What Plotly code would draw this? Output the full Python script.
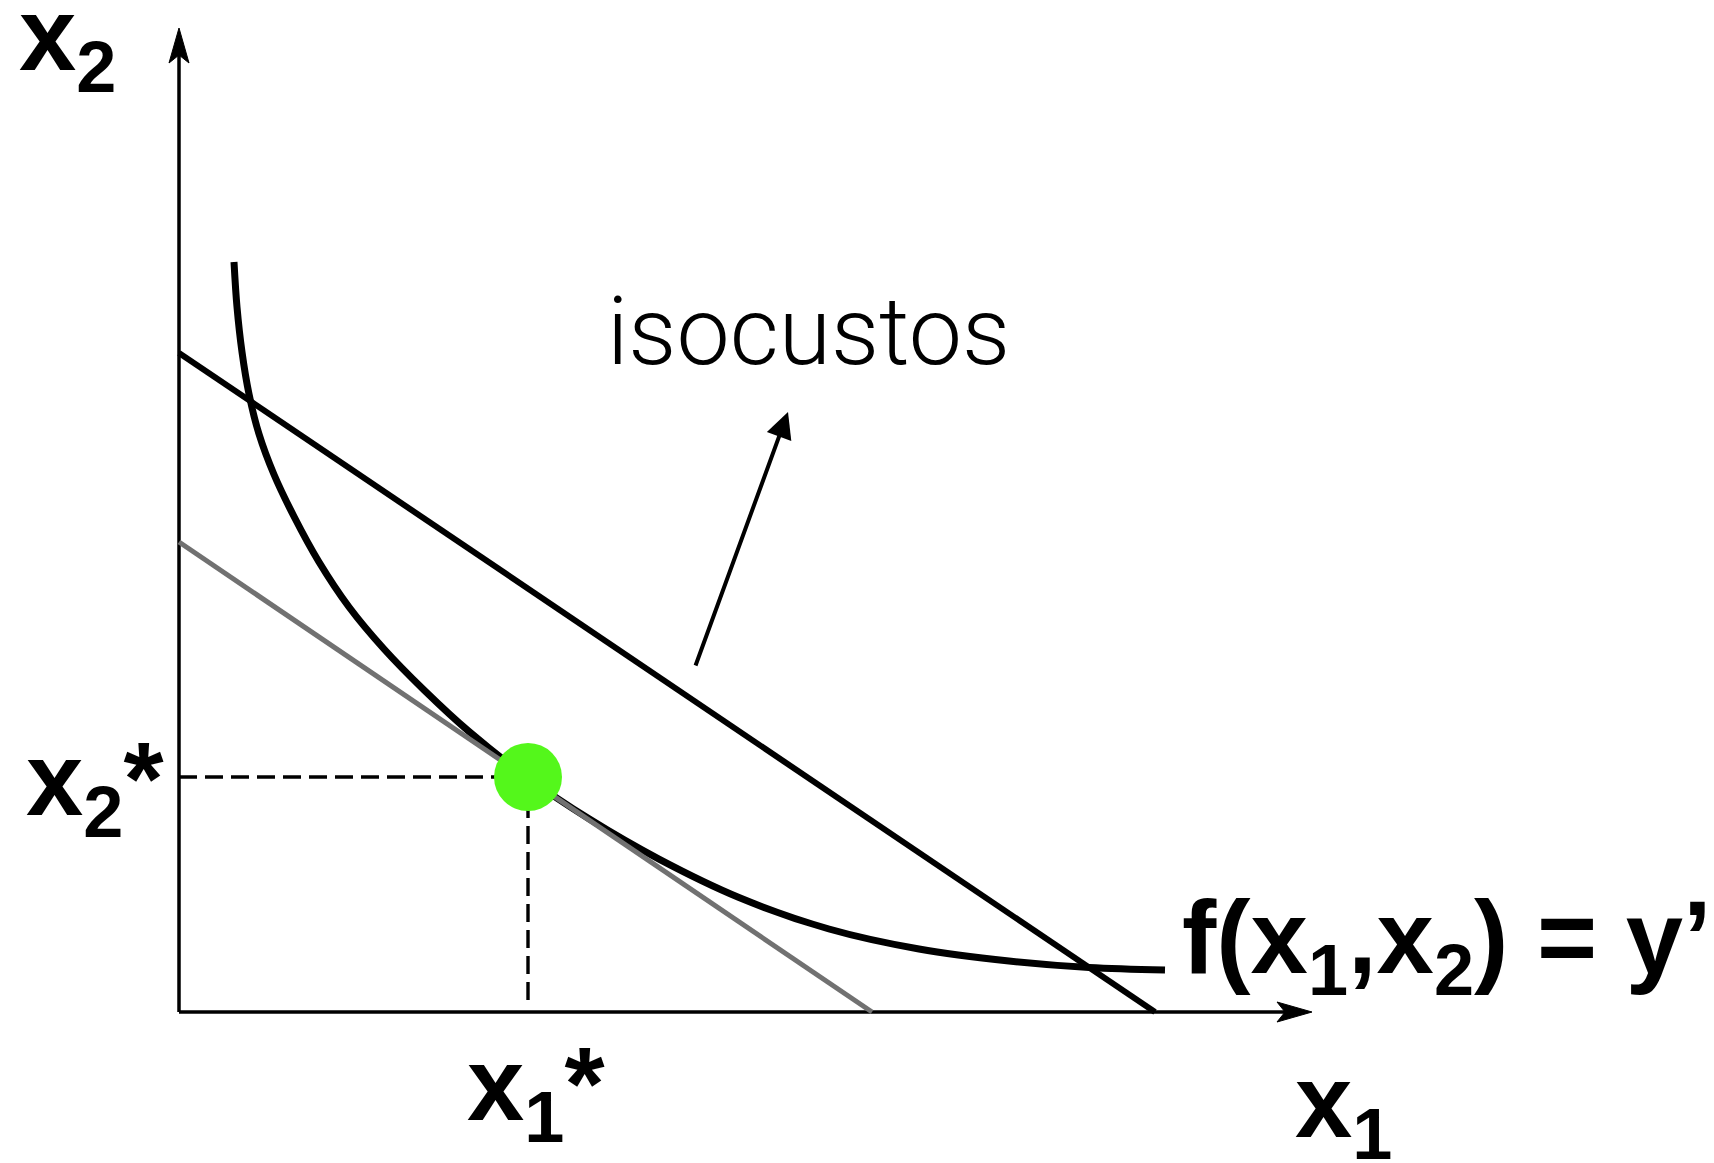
import plotly.graph_objects as go

# ---------------- data (x1, x2 units) ----------------
isoquant_x1 = [0.55, 0.58, 0.63, 0.70, 0.80, 0.95, 1.15, 1.40, 1.70, 2.05, 2.45, 2.90, 3.49,
               4.10, 4.80, 5.60, 6.50, 7.40, 8.30, 9.10, 9.86]
isoquant_x2 = [7.50, 7.05, 6.60, 6.18, 5.78, 5.375, 4.955, 4.50, 4.05, 3.63, 3.22, 2.805, 2.34,
               1.932, 1.529, 1.145, 0.83, 0.63, 0.51, 0.445, 0.42]

high_cost_x1 = [0.0, 9.76]
high_cost_x2 = [6.59, 0.0]
low_cost_x1 = [0.0, 6.93]
low_cost_x2 = [4.70, 0.0]

optimum_x1 = [3.49]
optimum_x2 = [2.35]
dash_bottom_x2 = 0.12

axis_x1_end = 11.33
axis_x2_end = 9.84

isocost_arrow_tail = [5.16, 3.45]
isocost_arrow_tip = [6.09, 6.00]

labels = ["x<sub>2</sub>", "x<sub>2</sub>*", "x<sub>1</sub>*",
          "f(x<sub>1</sub>,x<sub>2</sub>) = y\u2019", "x<sub>1</sub>"]
isocost_label = "isocustos"

# ---------------- layout geometry ----------------
PAGE_MARGIN = 8                      # default body margin of the html page
W, H = 1714 - PAGE_MARGIN, 1163 - PAGE_MARGIN
X0_PX, Y0_PX, PX_PER_UNIT = 179 - PAGE_MARGIN, 1012 - PAGE_MARGIN, 100.0
x_range = [-X0_PX / PX_PER_UNIT, (W - X0_PX) / PX_PER_UNIT]
y_range = [(Y0_PX - H) / PX_PER_UNIT, Y0_PX / PX_PER_UNIT]


def px(v):
    return v / PX_PER_UNIT


def paper_x(p):
    return (p - PAGE_MARGIN) / W


def paper_y(p):
    return 1 - (p - PAGE_MARGIN) / H


BLACK = "#000000"
GRAY = "#717171"
GREEN = "#54F71B"

fig = go.Figure()

# axes shafts
fig.add_trace(go.Scatter(x=[0, axis_x1_end - px(26)], y=[0, 0], mode="lines",
                         line=dict(color=BLACK, width=3.5)))
fig.add_trace(go.Scatter(x=[0, 0], y=[0, axis_x2_end - px(26)], mode="lines",
                         line=dict(color=BLACK, width=3.5)))

# isoquant
fig.add_trace(go.Scatter(x=isoquant_x1, y=isoquant_x2, mode="lines",
                         line=dict(color=BLACK, width=7, shape="spline", smoothing=1.0)))
# higher isocost
fig.add_trace(go.Scatter(x=high_cost_x1, y=high_cost_x2, mode="lines",
                         line=dict(color=BLACK, width=6)))
# lower (tangent) isocost
fig.add_trace(go.Scatter(x=low_cost_x1, y=low_cost_x2, mode="lines",
                         line=dict(color=GRAY, width=5)))

# dashed guides
fig.add_trace(go.Scatter(x=[0, optimum_x1[0]], y=[optimum_x2[0], optimum_x2[0]], mode="lines",
                         line=dict(color=BLACK, width=3.4, dash="18px,8px")))
fig.add_trace(go.Scatter(x=[optimum_x1[0], optimum_x1[0]], y=[dash_bottom_x2, optimum_x2[0]],
                         mode="lines", line=dict(color=BLACK, width=3.4, dash="18px,8px")))

# optimum point
fig.add_trace(go.Scatter(x=optimum_x1, y=optimum_x2, mode="markers",
                         marker=dict(color=GREEN, size=68, line=dict(width=0))))

# axis arrowheads (stealth style)
L, HW, N = px(35), px(10), px(27)
xa = axis_x1_end
ya = axis_x2_end
path_x = f"M {xa},0 L {xa - L},{HW} L {xa - N},0 L {xa - L},{-HW} Z"
path_y = f"M 0,{ya} L {-HW},{ya - L} L 0,{ya - N} L {HW},{ya - L} Z"
for p in (path_x, path_y):
    fig.add_shape(type="path", path=p, xref="x", yref="y",
                  fillcolor=BLACK, line=dict(color=BLACK, width=1))

# arrow pointing to the label
fig.add_annotation(x=isocost_arrow_tip[0], y=isocost_arrow_tip[1],
                   ax=isocost_arrow_tail[0], ay=isocost_arrow_tail[1],
                   xref="x", yref="y", axref="x", ayref="y", text="",
                   showarrow=True, arrowhead=2, arrowsize=1.3, arrowwidth=4,
                   arrowcolor=BLACK, standoff=0)

# text labels: (left px, baseline px) in page pixels
BOLD_SIZE = 103
label_pos = [(19, 70), (26, 815), (467, 1120), (1182, 973), (1295, 1137)]
for txt, (lx, by) in zip(labels, label_pos):
    fig.add_annotation(x=paper_x(lx), y=paper_y(by - 0.905 * BOLD_SIZE), xref="paper", yref="paper",
                       text=txt, showarrow=False, xanchor="left", yanchor="top",
                       borderpad=0, borderwidth=0,
                       font=dict(family="Liberation Sans, Arial, sans-serif", size=BOLD_SIZE,
                                 color=BLACK, weight="bold"))

LIGHT_SIZE = 95
fig.add_annotation(x=paper_x(607), y=paper_y(364 - 0.928 * LIGHT_SIZE), xref="paper", yref="paper",
                   text=isocost_label, showarrow=False, xanchor="left", yanchor="top",
                   borderpad=0, borderwidth=0,
                   font=dict(family="Roboto, Lato, Inter, sans-serif", size=LIGHT_SIZE,
                             color=BLACK, weight=300))

fig.update_layout(
    width=W, height=H, autosize=False,
    margin=dict(l=0, r=0, t=0, b=0, pad=0),
    paper_bgcolor="white", plot_bgcolor="white",
    showlegend=False, hovermode=False,
    xaxis=dict(range=x_range, visible=False, fixedrange=True),
    yaxis=dict(range=y_range, visible=False, fixedrange=True),
)

fig.write_html("out.html")
